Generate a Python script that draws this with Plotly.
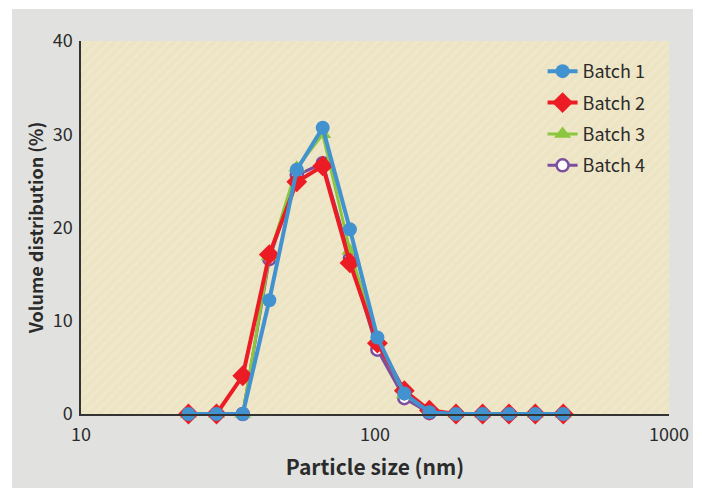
import plotly.graph_objects as go

# Particle size bins (nm)
sizes = [23.2, 28.9, 35.5, 43.7, 54.2, 66.4, 82.2, 101.9, 125.8, 153.1,
         188.6, 232.3, 285.6, 351.0, 437.0]

batch1 = [0, 0, 0, 12.2, 26.2, 30.7, 19.8, 8.2, 2.2, 0.2, 0, 0, 0, 0, 0]
batch2 = [0, 0, 4.1, 17.1, 24.9, 26.6, 16.2, 7.6, 2.5, 0.4, 0, 0, 0, 0, 0]
batch3 = [0, 0, 0, 16.9, 26.4, 30.0, 17.5, 8.0, 2.1, 0.2, 0, 0, 0, 0, 0]
batch4 = [0, 0, 0, 16.6, 25.6, 26.9, 16.7, 6.9, 1.7, 0.1, 0, 0, 0, 0, 0]

x_ticks = [10, 100, 1000]
x_tick_labels = ["10", "100", "1000"]
y_ticks = [0, 10, 20, 30, 40]

FONT = "Noto Sans CJK SC"
TXT = "#2b2b2b"

fig = go.Figure()

# plot-area background with faint diagonal hatching
fig.add_trace(go.Scatter(
    x=[10, 1000, 1000, 10, 10], y=[0, 0, 40, 40, 0],
    mode="none", fill="toself",
    fillcolor="#ede4c4",
    fillpattern=dict(shape="/", bgcolor="#ede4c4", fgcolor="#f3ecd4",
                     size=7, solidity=0.35),
    hoverinfo="skip", showlegend=False,
))

series = [
    ("Batch 4", 4, batch4, dict(color="white", size=12, symbol="circle",
                                line=dict(color="#7b4ea0", width=2.5)), "#7b4ea0", 3),
    ("Batch 3", 3, batch3, dict(color="#8cc63f", size=15, symbol="triangle-up"), "#8cc63f", 3),
    ("Batch 2", 2, batch2, dict(color="#ec1c24", size=16, symbol="diamond"), "#ec1c24", 4),
    ("Batch 1", 1, batch1, dict(color="#4292cf", size=14, symbol="circle"), "#4292cf", 4),
]
for name, rank, vals, marker, lc, lw in series:
    fig.add_trace(go.Scatter(
        x=sizes, y=vals, name=name, mode="lines+markers",
        line=dict(color=lc, width=lw), marker=marker,
        cliponaxis=False, legendgroup=name, legendrank=rank,
    ))

fig.update_layout(
    width=694, height=480,
    margin=dict(l=73, r=33, t=33, b=74),
    paper_bgcolor="white",
    plot_bgcolor="#ede4c4",
    font=dict(family=FONT, color=TXT, size=18),
    showlegend=True,
    legend=dict(
        x=0.785, y=0.968, xanchor="left", yanchor="top",
        bgcolor="rgba(0,0,0,0)", traceorder="grouped",
        tracegroupgap=5, font=dict(size=18, family=FONT, color=TXT),
    ),
    shapes=[dict(type="rect", xref="paper", yref="paper",
                 x0=-0.1173, x1=1.0408, y0=-0.25, y1=1.086,
                 fillcolor="#e1e2df", line=dict(width=0), layer="below")],
)

fig.update_xaxes(
    type="log", range=[1, 3], tickvals=x_ticks, ticktext=x_tick_labels,
    showgrid=False, zeroline=False, showline=True, linecolor="#333333",
    linewidth=1.5, ticks="", ticklabelstandoff=4,
    tickfont=dict(size=18, color=TXT),
    title=dict(text="<b>Particle size (nm)</b>", standoff=15,
               font=dict(size=21, color=TXT)),
)
fig.update_yaxes(
    range=[0, 40], tickvals=y_ticks,
    showgrid=False, zeroline=False, showline=True, linecolor="#333333",
    linewidth=1.5, ticks="", ticklabelstandoff=3,
    tickfont=dict(size=18, color=TXT),
    title=dict(text="<b>Volume distribution (%)</b>", standoff=4,
               font=dict(size=18, color=TXT)),
)

fig.write_html("out.html")
